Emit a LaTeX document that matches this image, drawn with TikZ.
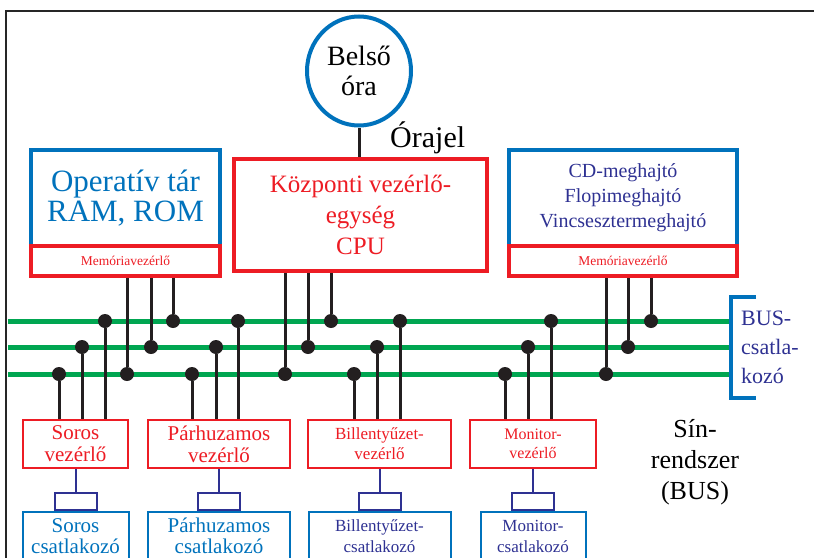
\documentclass[tikz,border=0pt]{standalone}
\usepackage{fontspec}
\setmainfont{Liberation Serif}
\usetikzlibrary{positioning,shapes.geometric}
\definecolor{busred}{HTML}{ED1C24}
\definecolor{busblue}{HTML}{0072BC}
\definecolor{busnavy}{HTML}{2E3192}
\definecolor{busgreen}{HTML}{00A651}
\definecolor{busblack}{HTML}{231F20}
\newcommand{\fsz}[2]{\fontsize{#1}{#2}\selectfont}

\begin{document}
\begin{tikzpicture}[x=1pt, y=-1pt]
  \tikzstyle{unit} = [rectangle, line width=4pt, inner sep=0pt, text centered, align=center]
  \tikzstyle{memctl} = [rectangle, line width=4pt, draw=busred, text=busred, minimum height=30pt, inner sep=0pt, font=\fsz{13.5}{15}]
  \tikzstyle{ctrl} = [rectangle, line width=2.5pt, draw=busred, text=busred, minimum height=48pt, inner sep=0pt, align=center]
  \tikzstyle{port} = [rectangle, line width=2pt, draw=busblue, minimum height=48pt, inner sep=0pt, align=center]
  \tikzstyle{plug} = [rectangle, line width=2pt, draw=busnavy, minimum width=42pt, minimum height=17pt, inner sep=0pt]
  \tikzstyle{dot} = [circle, fill=busblack, minimum size=14pt, inner sep=0pt]
  \tikzstyle{bus} = [line width=5pt, busgreen]
  \tikzstyle{tap} = [line width=3pt, busblack]
  \tikzstyle{wire} = [line width=2pt, busnavy]

  \clip (0,0) rectangle (814,557);
  % frame
  \draw [line width=1.5pt, black!85] (6,570) -- (6,11) -- (820,11);

  % clock and the three units on top
  \node (clock) [ellipse, draw=busblue, line width=4pt, minimum width=104pt, minimum height=109pt, inner sep=0pt, align=center, font=\fsz{28}{30}] at (359,71) {Belső\\óra};
  \node (clk) [anchor=base west, inner sep=0pt, font=\fsz{30}{32}] at (390,147) {Órajel};
  \node (opmem) [unit, draw=busblue, text=busblue, minimum width=189pt, minimum height=96pt, font=\fsz{31}{30}] at (125.5,198) {Operatív tár\\RAM, ROM};
  \node (memA) [memctl, minimum width=189pt] at (125.5,261) {Memóriavezérlő};
  \node (cpu) [unit, draw=busred, text=busred, minimum width=253pt, minimum height=112pt, font=\fsz{25}{31}] at (360.5,215) {Központi vezérlő-\\egység\\CPU};
  \node (drive) [unit, draw=busblue, text=busnavy, minimum width=228pt, minimum height=96pt, font=\fsz{20}{25}] at (623,198) {CD-meghajtó\\Flopimeghajtó\\Vincsesztermeghajtó};
  \node (memB) [memctl, minimum width=228pt] at (623,261) {Memóriavezérlő};
  \draw [tap] (clock.south) -- (clock.south |- cpu.north);

  % bus lines
  \coordinate (aL) at (8,321);  \coordinate (aR) at (731,321);
  \coordinate (bL) at (8,347);  \coordinate (bR) at (731,347);
  \coordinate (cL) at (8,374);  \coordinate (cR) at (731,374);
  \draw [bus] (aL) -- (aR);
  \draw [bus] (bL) -- (bR);
  \draw [bus] (cL) -- (cR);
  \coordinate (brT) at (756,297);
  \coordinate (brB) at (756,398);
  \draw [line width=4pt, busblue] (brT) -- (brT -| aR) -- (brB -| aR) -- (brB);
  \node (busjack) [anchor=west, align=left, inner sep=0pt, text=busnavy, font=\fsz{22}{29}] at (741,347) {BUS-\\csatla-\\kozó};

  % controllers and ports below
  \node (soros) [ctrl, minimum width=105pt, font=\fsz{21}{22}] at (75.5,444) {Soros\\vezérlő};
  \node (parh) [ctrl, minimum width=142pt, font=\fsz{21}{22}] at (219,444) {Párhuzamos\\vezérlő};
  \node (bill) [ctrl, minimum width=143pt, font=\fsz{17}{20}] at (379.5,444) {Billentyűzet-\\vezérlő};
  \node (mon) [ctrl, minimum width=126pt, font=\fsz{16}{19}] at (533,444) {Monitor-\\vezérlő};
  \node (sorosplug) [plug, below=23pt of soros] {};
  \node (parhplug) [plug, below=23pt of parh] {};
  \node (billplug) [plug, below=23pt of bill] {};
  \node (monplug) [plug, below=23pt of mon] {};
  \draw [wire] (soros) -- (sorosplug);
  \draw [wire] (parh) -- (parhplug);
  \draw [wire] (bill) -- (billplug);
  \draw [wire] (mon) -- (monplug);
  \node (sorosport) [port, below=0pt of sorosplug, minimum width=106pt, text=busblue, font=\fsz{21}{21}] {Soros\\csatlakozó};
  \node (parhport) [port, below=0pt of parhplug, minimum width=142pt, text=busblue, font=\fsz{21}{21}] {Párhuzamos\\csatlakozó};
  \node (billport) [port, below=0pt of billplug, minimum width=142pt, text=busnavy, font=\fsz{17}{21}] {Billentyűzet-\\csatlakozó};
  \node (monport) [port, below=0pt of monplug, minimum width=105pt, text=busnavy, font=\fsz{17}{21}] {Monitor-\\csatlakozó};
  \node (sys) [align=center, inner sep=0pt, font=\fsz{26}{31}] at (695,462) {Sín-\\rendszer\\(BUS)};

  % taps from the units above
  \node (ta1) [dot] at (127,374) {};  \draw [tap] (memA.south -| ta1) -- (ta1);
  \node (ta2) [dot] at (151,347) {};  \draw [tap] (memA.south -| ta2) -- (ta2);
  \node (ta3) [dot] at (173,321) {};  \draw [tap] (memA.south -| ta3) -- (ta3);
  \node (tc1) [dot] at (285,374) {};  \draw [tap] (cpu.south -| tc1) -- (tc1);
  \node (tc2) [dot] at (308,347) {};  \draw [tap] (cpu.south -| tc2) -- (tc2);
  \node (tc3) [dot] at (331,321) {};  \draw [tap] (cpu.south -| tc3) -- (tc3);
  \node (tb1) [dot] at (606,374) {};  \draw [tap] (memB.south -| tb1) -- (tb1);
  \node (tb2) [dot] at (628,347) {};  \draw [tap] (memB.south -| tb2) -- (tb2);
  \node (tb3) [dot] at (651,321) {};  \draw [tap] (memB.south -| tb3) -- (tb3);

  % taps to the controllers below
  \node (ts1) [dot] at (59,374) {};   \draw [tap] (ts1) -- (ts1 |- soros.north);
  \node (ts2) [dot] at (82,347) {};   \draw [tap] (ts2) -- (ts2 |- soros.north);
  \node (ts3) [dot] at (105,321) {};  \draw [tap] (ts3) -- (ts3 |- soros.north);
  \node (tp1) [dot] at (192,374) {};  \draw [tap] (tp1) -- (tp1 |- parh.north);
  \node (tp2) [dot] at (216,347) {};  \draw [tap] (tp2) -- (tp2 |- parh.north);
  \node (tp3) [dot] at (238,321) {};  \draw [tap] (tp3) -- (tp3 |- parh.north);
  \node (tk1) [dot] at (354,374) {};  \draw [tap] (tk1) -- (tk1 |- bill.north);
  \node (tk2) [dot] at (377,347) {};  \draw [tap] (tk2) -- (tk2 |- bill.north);
  \node (tk3) [dot] at (400,321) {};  \draw [tap] (tk3) -- (tk3 |- bill.north);
  \node (tm1) [dot] at (505,374) {};  \draw [tap] (tm1) -- (tm1 |- mon.north);
  \node (tm2) [dot] at (528,347) {};  \draw [tap] (tm2) -- (tm2 |- mon.north);
  \node (tm3) [dot] at (551,321) {};  \draw [tap] (tm3) -- (tm3 |- mon.north);
\end{tikzpicture}
\end{document}
